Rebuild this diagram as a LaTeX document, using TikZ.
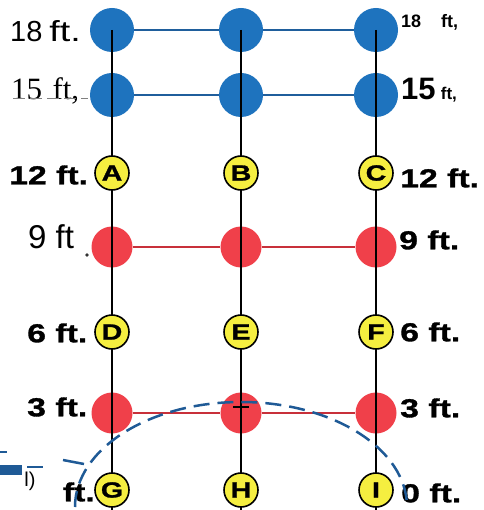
\documentclass[tikz,border=0pt]{standalone}
\usepackage{graphicx}
\usepackage{fontspec}
\setmainfont{Liberation Sans}
\newfontfamily\serifx{Liberation Serif}
\newfontfamily\heavyfam{Liberation Sans}[BoldFeatures={FakeStretch=1.3,FakeBold=1.2}]
\definecolor{dotblue}{HTML}{1E73BE}
\definecolor{lineblue}{HTML}{1F5E9C}
\definecolor{dotred}{HTML}{F0404A}
\definecolor{linered}{HTML}{C8303A}
\definecolor{dotyellow}{HTML}{F5EE40}
\definecolor{arcblue}{HTML}{1F5A96}
\begin{document}
\begin{tikzpicture}[x=1pt,y=-1pt,
  bluedot/.style={circle, fill=dotblue, minimum size=44pt, inner sep=0pt},
  reddot/.style={circle, fill=dotred, minimum size=41pt, inner sep=0pt},
  yel/.style={circle, fill=dotyellow, draw=black, line width=1.6pt, minimum size=34pt, inner sep=0pt, font=\heavyfam\bfseries\fontsize{22}{22}\selectfont},
  bl/.style={inner sep=1pt, font=\heavyfam\bfseries\fontsize{26}{26}\selectfont},
  rg/.style={inner sep=1pt, font=\fontsize{29}{29}\selectfont},
  vline/.style={line width=1.5pt, black},
  hblue/.style={line width=2.2pt, lineblue},
  hred/.style={line width=2pt, linered},
  arcd/.style={line width=2.5pt, arcblue, dash pattern=on 16pt off 8pt}]
\useasboundingbox (0,0) rectangle (483,510);
\fill[white] (0,0) rectangle (483,510);

% coloured dots
\node[bluedot] (b1) at (112,30) {};
\node[bluedot] (b2) at (241,30) {};
\node[bluedot] (b3) at (376,30) {};
\node[bluedot] (c1) at (112,95) {};
\node[bluedot] (c2) at (241,95) {};
\node[bluedot] (c3) at (376,95) {};
\node[reddot] (r1) at (112,247) {};
\node[reddot] (r2) at (241,247) {};
\node[reddot] (r3) at (376,247) {};
\node[reddot] (s1) at (112,413) {};
\node[reddot] (s2) at (241,413) {};
\node[reddot] (s3) at (376,413) {};

% horizontal connectors
\draw[hblue] (b1) -- (b2); \draw[hblue] (b2) -- (b3);
\draw[hblue] (c1) -- (c2); \draw[hblue] (c2) -- (c3);
\draw[hred] (r1) -- (r2); \draw[hred] (r2) -- (r3);
\draw[hred] (s1) -- (s2); \draw[hred] (s2) -- (s3);

% vertical lines
\coordinate (e1) at (112,510);
\coordinate (e2) at (241,510);
\coordinate (e3) at (376,510);
\draw[vline] (b1.center) -- (e1);
\draw[vline] (b2.center) -- (e2);
\draw[vline] (b3.center) -- (e3);
\draw[line width=1.2pt] (233,407) -- (249,407);

% yellow dots
\node[yel] (A) at (112,173) {A};
\node[yel] (B) at (241,173) {B};
\node[yel] (C) at (376,173) {C};
\node[yel] (D) at (112,332) {D};
\node[yel] (E) at (241,332) {E};
\node[yel] (F) at (376,332) {F};
\node[yel] (G) at (112,490) {G};
\node[yel] (H) at (241,490) {H};
\node[yel] (I) at (376,490) {I};

% left labels
\node[rg, anchor=west] (l18) at (9,31) {18\hspace{7pt}\scalebox{1.3}[1]{ft.}};
\node[inner sep=1pt, anchor=west, font=\serifx\fontsize{31}{31}\selectfont] (l15) at (10,91) {15\,\,ft,};
\draw[gray, line width=1pt, dash pattern=on 12pt off 5pt] (13,99) -- (88,99);
\node[bl, anchor=west] (l12) at (8,175) {12 ft.};
\node[inner sep=1pt, anchor=west, font=\fontsize{33}{33}\selectfont] (l9) at (27,237) {9 ft};
\fill[black!80] (87,255) circle (1.8pt);
\node[bl, anchor=west] (l6) at (26,333) {6 ft.};
\node[bl, anchor=west] (l3) at (26,407) {3 ft.};
\node[bl, anchor=east] (l0) at (96,492) {ft.};

% right labels
\node[inner sep=1pt, anchor=west, font=\bfseries\fontsize{18}{18}\selectfont] (r18) at (400,22) {18\hspace{20pt}ft,};
\node[inner sep=1pt, anchor=base west, font=\bfseries\fontsize{31}{31}\selectfont] (r15) at (400,100) {15\,{\fontsize{17}{17}\selectfont ft,}};
\node[bl, anchor=west] (r12) at (399,178) {12 ft.};
\node[bl, anchor=west] (r9) at (398,240) {9 ft.};
\node[bl, anchor=west] (r6) at (399,332) {6 ft.};
\node[bl, anchor=west] (r3) at (399,408) {3 ft.};
\node[bl, anchor=west] (r0) at (400,493) {0 ft.};

% stray marks at the lower left
\fill[arcblue] (0,465) rectangle (22,475);
\draw[arcblue, line width=2pt] (0,452) -- (7,452);
\draw[arcblue, line width=2pt] (27,467) -- (43,467);
\node[inner sep=0pt, font=\fontsize{20}{20}\selectfont] (lp) at (30,481) {l)};
\draw[arcblue, line width=2.5pt] (63,460) -- (84,464);

% dashed arc
\draw[arcd] (75,507) arc[start angle=180, end angle=0, x radius=166pt, y radius=105pt];
\end{tikzpicture}
\end{document}
